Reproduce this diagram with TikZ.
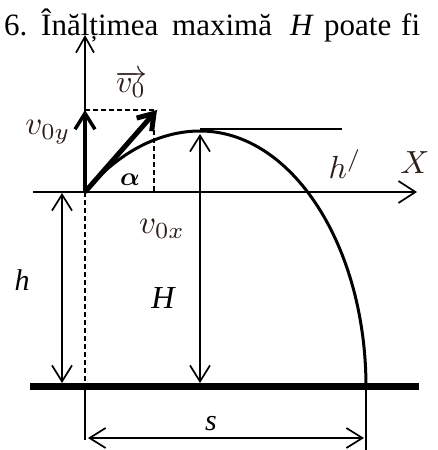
\documentclass[tikz,border=0pt]{standalone}
\usepackage{graphicx}
\usepackage{fontspec}
\setmainfont{Liberation Serif}
\usetikzlibrary{arrows.meta}
\definecolor{lab}{RGB}{45,30,25}
\begin{document}
\begin{tikzpicture}[x=1pt,y=-1pt,
  axisline/.style={line width=1.7pt},
  dimline/.style={line width=1.7pt,{Straight Barb[length=16pt,width=20pt]}-{Straight Barb[length=16pt,width=20pt]}},
  dashline/.style={line width=1.4pt,dash pattern=on 5pt off 3pt},
  mlabel/.style={text=lab,inner sep=0pt},
  tword/.style={anchor=base west,inner sep=0pt,font=\fontsize{31}{31}\selectfont},
  tlabel/.style={font=\fontsize{30}{30}\selectfont\itshape,inner sep=0pt}]
\useasboundingbox (0,0) rectangle (438,450);
% coordinates
\coordinate (O) at (85,192);
\coordinate (yT) at (85,35);
\coordinate (xL) at (33,192);
\coordinate (xR) at (417,192);
\coordinate (V0) at (157,110);
\coordinate (Vy) at (85,110);
\coordinate (dV1) at (154,122);
\coordinate (dV2) at (154,192);
\coordinate (A) at (200,131);
\coordinate (Gc) at (366,387);
\coordinate (apL) at (200,129);
\coordinate (apR) at (342,129);
\coordinate (Ht) at (200,134);
\coordinate (Hb) at (200,383);
\coordinate (ht) at (62,193);
\coordinate (hb) at (62,383);
\coordinate (gL) at (30,386);
\coordinate (gR) at (419,386);
\coordinate (dO) at (85,383);
\coordinate (sO1) at (85,389);
\coordinate (sO2) at (85,440);
\coordinate (sR1) at (366,386);
\coordinate (sR2) at (366,450);
\coordinate (sL) at (88,438);
\coordinate (sRR) at (364,438);
% title
\node[tword] (t1) at (4,35) {6.};
\node[tword] (t2) at (41,35) {Înălțimea};
\node[tword] (t3) at (172,35) {maximă};
\node[tword,font=\fontsize{31}{31}\selectfont\itshape] (t4) at (290,35) {H};
\node[tword] (t5) at (324,35) {poate};
\node[tword] (t6) at (401,35) {fi};
% axes
\draw[axisline,-{Straight Barb[length=17pt,width=22pt]}] (xL) -- (xR);
\draw[axisline,-{Straight Barb[length=16pt,width=18pt]}] (O) -- (yT);
% ground
\draw[line width=7pt] (gL) -- (gR);
% dashed helpers
\draw[dashline] (Vy) -- (V0);
\draw[dashline] (dV1) -- (dV2);
\draw[dashline] (O) -- (dO);
\draw[line width=1.4pt] (sO1) -- (sO2);
\draw[line width=1.4pt] (sR1) -- (sR2);
% trajectory
\draw[line width=3pt] (O) .. controls (118,152) and (160,131) .. (A)
  .. controls (292,131) and (366,246) .. (Gc);
\draw[line width=1.4pt] (apL) -- (apR);
% velocity arrows
\draw[line width=3.5pt,-{Straight Barb[length=16pt,width=20pt]}] (O) -- (Vy);
\draw[line width=5pt,-{Straight Barb[length=15pt,width=20pt]}] (O) -- (V0);
% dimensions
\draw[dimline] (Ht) -- (Hb);
\draw[dimline] (ht) -- (hb);
\draw[dimline] (sL) -- (sRR);
% labels
\node[mlabel] (lv0) at (131,84) {\scalebox{3.2}{$\overrightarrow{v_0}$}};
\node[mlabel] (lv0y) at (48,132) {\scalebox{3.3}{$v_{0y}$}};
\node[mlabel] (lv0x) at (162,229) {\scalebox{3.3}{$v_{0x}$}};
\node[inner sep=0pt] (lal) at (130,180) {\scalebox{2.6}{\boldmath$\alpha$}};
\node[mlabel] (lhp) at (345,164) {\scalebox{3.2}{$h^{/}$}};
\node[mlabel] (lX) at (415,163) {\scalebox{3.2}{$X$}};
\node[tlabel] (lh) at (22,280) {h};
\node[tlabel,font=\fontsize{32}{32}\selectfont\itshape] (lH) at (163,298) {H};
\node[tlabel,anchor=base] (ls) at (211,430) {s};
\end{tikzpicture}
\end{document}
